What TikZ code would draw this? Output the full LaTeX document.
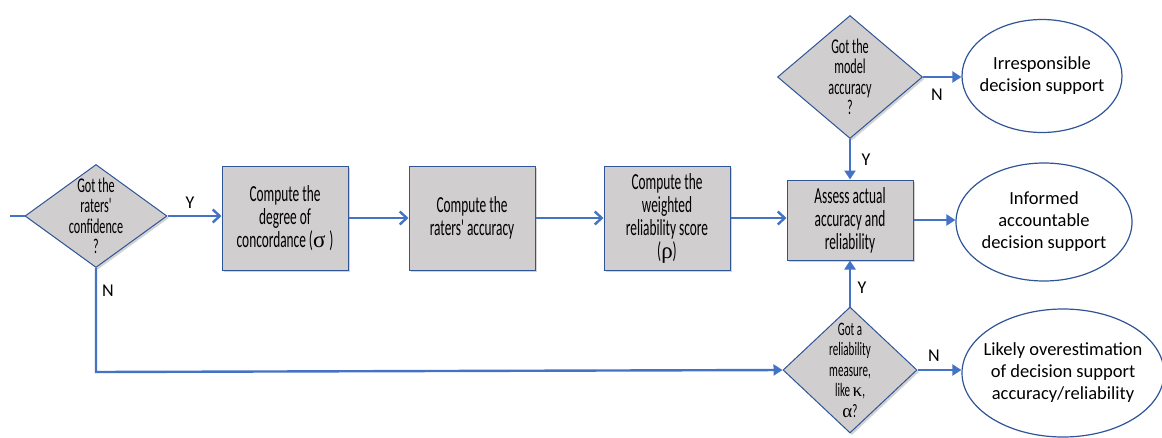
\documentclass[tikz,border=0pt]{standalone}
\usepackage{fontspec}
\setmainfont{Carlito}
\newfontfamily\condfont[FakeStretch=0.58]{Carlito}
\newfontfamily\grk{Liberation Serif}
\usetikzlibrary{shapes.geometric,arrows.meta,shadows}
\definecolor{flowblue}{HTML}{4472C4}
\definecolor{edgeblue}{HTML}{2F5597}
\definecolor{boxgray}{HTML}{D0CECE}
\tikzset{
  procbox/.style={draw=edgeblue, line width=1pt, fill=boxgray, minimum width=126pt, minimum height=104pt,
    align=center, font=\condfont\fontsize{23}{23}\selectfont,
    drop shadow={opacity=0.35, shadow xshift=2pt, shadow yshift=-2pt}},
  decide/.style={draw=edgeblue, line width=1pt, fill=boxgray, diamond, inner sep=0pt,
    drop shadow={opacity=0.35, shadow xshift=2pt, shadow yshift=-2pt}},
  dlabel/.style={align=center, font=\condfont\fontsize{21}{20.5}\selectfont},
  outcome/.style={draw=edgeblue, line width=1.2pt, fill=white, ellipse, inner sep=0pt},
  elabel/.style={align=center, font=\fontsize{18.5}{22}\selectfont},
  flow/.style={draw=flowblue, line width=2.4pt},
  barb/.style={flow, -{Straight Barb[length=7pt,width=13pt,line width=2.4pt]}},
  tri/.style={flow, -{Triangle[length=9pt,width=11pt]}},
  yn/.style={font=\fontsize{18}{20}\selectfont}
}
\begin{document}
\begin{tikzpicture}[x=1pt,y=-1pt]
\useasboundingbox (0,0) rectangle (1162,437);
% decisions
\node[decide, minimum width=142pt, minimum height=103pt,
  label={[dlabel]center:{Got the\\raters'\\confidence\\?}}] (d1) at (96,216) {};
\node[decide, minimum width=145pt, minimum height=123pt,
  label={[dlabel]center:{Got the\\model\\accuracy\\?}}] (d2) at (850,77) {};
\node[decide, minimum width=134pt, minimum height=126pt,
  label={[dlabel, font=\condfont\fontsize{19}{20.5}\selectfont]center:{Got a\\reliability\\measure,\\like {\grk κ},\\{\grk α}?}}] (d3) at (850,370) {};
% process boxes
\node[procbox] (b1) at (285,218) {Compute the\\degree of\\concordance ({\grk σ}\,)};
\node[procbox] (b2) at (472,218) {Compute the\\raters' accuracy};
\node[procbox] (b3) at (667,218) {Compute the\\weighted\\reliability score\\({\grk ρ})};
\node[procbox, minimum height=80pt] (b4) at (850,220) {Assess actual\\accuracy and\\reliability};
% outcomes
\node[outcome, minimum width=160pt, minimum height=113pt,
  label={[elabel]center:{Irresponsible\\decision support}}] (e1) at (1042,76) {};
\node[outcome, minimum width=176pt, minimum height=118pt,
  label={[elabel]center:{Informed\\accountable\\decision support}}] (e2) at (1044,222) {};
\node[outcome, minimum width=202pt, minimum height=128pt,
  label={[elabel]center:{Likely overestimation\\of decision support\\accuracy/reliability}}] (e3) at (1063,373) {};
% connectors
\coordinate (start) at (10,216);
\coordinate (corner) at (96,372);
\draw[flow] (start) -- (d1.west);
\draw[barb] (d1.east) -- (b1.west |- d1.east);
\draw[barb] (b1.east) -- (b2.west);
\draw[barb] (b2.east) -- (b3.west);
\draw[barb] (b3.east) -- (b4.west |- b3.east);
\draw[tri] (b4.east) -- (e2.west |- b4.east);
\draw[tri] (d2.east) -- (e1.west |- d2.east);
\draw[tri] (d2.south) -- (b4.north);
\draw[tri] (d3.north) -- (b4.south);
\draw[tri] (d3.east) -- (e3.west |- d3.east);
\draw[tri] (d1.south) -- (corner) -- (d3.west);
% Y / N labels
\node[yn] (ly1) at (190,203) {Y};
\node[yn] (ln1) at (108,291) {N};
\node[yn] (ln2) at (937,95) {N};
\node[yn] (ly2) at (866,160) {Y};
\node[yn] (ly3) at (862,288) {Y};
\node[yn] (ln3) at (934,356) {N};
\end{tikzpicture}
\end{document}
